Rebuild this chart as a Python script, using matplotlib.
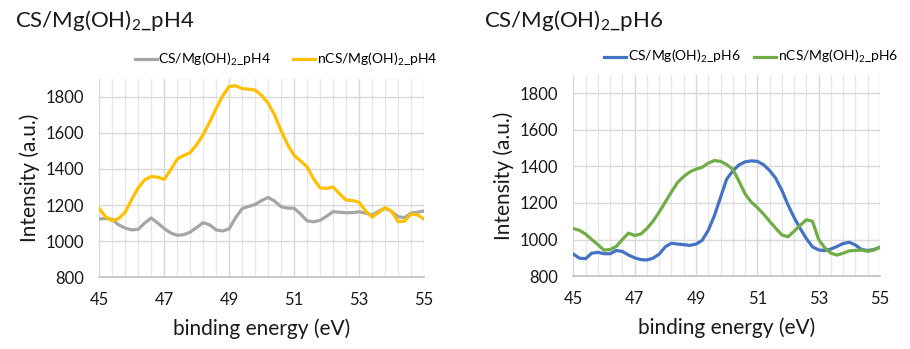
import numpy as np
import matplotlib
matplotlib.use('Agg')
import matplotlib.pyplot as plt

plt.rcParams['font.family'] = ['Lato', 'DejaVu Sans']
plt.rcParams['mathtext.fontset'] = 'custom'
plt.rcParams['mathtext.rm'] = 'Lato'
plt.rcParams['mathtext.it'] = 'Lato:italic'

# binding energy grid (eV)
energy = [45.0 + 0.2 * i for i in range(51)]

# pH4 panel
cs_ph4 = [1122, 1126, 1120, 1090, 1072, 1062, 1065, 1100, 1128, 1100,
          1070, 1045, 1032, 1035, 1050, 1075, 1102, 1090, 1062, 1056,
          1068, 1130, 1180, 1192, 1203, 1225, 1242, 1222, 1190, 1183,
          1182, 1150, 1112, 1107, 1115, 1138, 1163, 1160, 1157, 1158,
          1162, 1155, 1144, 1165, 1182, 1165, 1135, 1130, 1155, 1160,
          1167]
ncs_ph4 = [1180, 1135, 1113, 1125, 1160, 1230, 1295, 1340, 1358, 1355,
           1342, 1395, 1455, 1475, 1490, 1535, 1590, 1660, 1735, 1805,
           1858, 1862, 1846, 1843, 1838, 1808, 1765, 1700, 1612, 1535,
           1475, 1445, 1412, 1345, 1295, 1292, 1300, 1262, 1228, 1225,
           1215, 1168, 1133, 1158, 1186, 1165, 1108, 1110, 1150, 1145,
           1122]

# pH6 panel
cs_ph6 = [920, 898, 895, 925, 930, 922, 922, 940, 935, 915,
          900, 890, 888, 898, 920, 960, 980, 975, 972, 968,
          975, 995, 1050, 1130, 1230, 1330, 1375, 1408, 1425, 1430,
          1428, 1410, 1378, 1335, 1270, 1190, 1120, 1060, 1005, 960,
          943, 940, 948, 962, 978, 985, 970, 945, 940, 945,
          958]
ncs_ph6 = [1060, 1050, 1030, 1000, 972, 942, 945, 962, 1000, 1035,
           1022, 1030, 1060, 1100, 1150, 1205, 1260, 1312, 1345, 1370,
           1385, 1395, 1418, 1432, 1428, 1410, 1385, 1320, 1250, 1205,
           1175, 1140, 1100, 1062, 1025, 1015, 1045, 1078, 1108, 1100,
           1000, 955, 925, 915, 925, 938, 940, 942, 935, 942,
           958]

xticks = [45, 47, 49, 51, 53, 55]
yticks = [800, 1000, 1200, 1400, 1600, 1800]

fig = plt.figure(figsize=(9.1, 3.49), dpi=100)
fig.patch.set_facecolor('white')

def setup(ax):
    ax.set_xlim(45, 55)
    ax.set_ylim(800, 1900)
    ax.set_xticks(xticks)
    ax.set_yticks(yticks)
    ax.set_xticks(np.arange(45, 55.01, 0.4), minor=True)
    ax.grid(which='major', axis='both', color='#D9D9D9', lw=1.0)
    ax.grid(which='minor', axis='x', color='#E6E6E6', lw=0.9)
    ax.set_axisbelow(True)
    for s in ['top', 'right', 'left']:
        ax.spines[s].set_visible(False)
    ax.spines['bottom'].set_color('#BFBFBF')
    ax.spines['bottom'].set_linewidth(1.2)
    ax.tick_params(which='both', length=0, labelsize=12, pad=11, colors='#1a1a1a')
    ax.set_xlabel('binding energy (eV)', fontsize=15, labelpad=7, color='#1a1a1a')
    ax.set_ylabel('Intensity (a.u.)', fontsize=15, labelpad=4, color='#1a1a1a')

ax1 = fig.add_axes([0.109, 0.206, 0.357, 0.568])
setup(ax1)
ax1.plot(energy, cs_ph4, color='#A5A5A5', lw=2.3, solid_joinstyle='round',
         label='CS/Mg(OH)$_2$_pH4')
ax1.plot(energy, ncs_ph4, color='#FFC000', lw=2.3, solid_joinstyle='round',
         label='nCS/Mg(OH)$_2$_pH4')
ax1.legend(loc='center', bbox_to_anchor=(0.575, 1.1), ncol=2, frameon=False,
           fontsize=10, handlelength=1.6, handletextpad=0.1, columnspacing=1.6)

ax2 = fig.add_axes([0.630, 0.209, 0.337, 0.576])
setup(ax2)
ax2.plot(energy, cs_ph6, color='#4472C4', lw=2.3, solid_joinstyle='round',
         label='CS/Mg(OH)$_2$_pH6')
ax2.plot(energy, ncs_ph6, color='#70AD47', lw=2.3, solid_joinstyle='round',
         label='nCS/Mg(OH)$_2$_pH6')
ax2.legend(loc='center', bbox_to_anchor=(0.58, 1.09), ncol=2, frameon=False,
           fontsize=10, handlelength=1.6, handletextpad=0.1, columnspacing=1.0)

fig.text(0.016, 0.94, 'CS/Mg(OH)$_2$_pH4', fontsize=16, va='center', ha='left', color='#1a1a1a')
fig.text(0.532, 0.94, 'CS/Mg(OH)$_2$_pH6', fontsize=16, va='center', ha='left', color='#1a1a1a')

fig.savefig('out.png', dpi=100, facecolor='white')
